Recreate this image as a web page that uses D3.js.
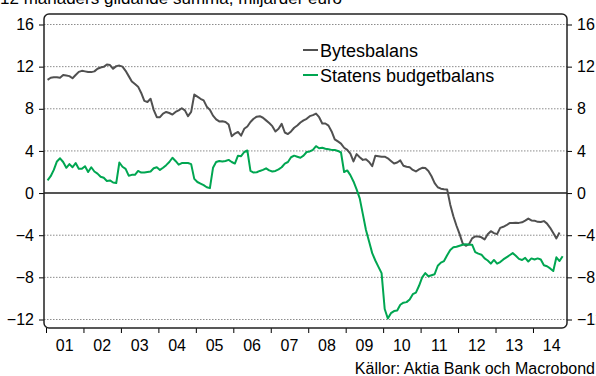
<!DOCTYPE html>
<html><head><meta charset="utf-8">
<script src="https://cdn.jsdelivr.net/npm/d3@7"></script>
<style>body{margin:0;background:#fff}svg{display:block}text{font-family:"Liberation Sans",Arial,sans-serif}</style>
</head><body>
<svg id="c" width="596" height="376"></svg>
<script>
const title = "12 månaders glidande summa, miljarder euro";
const source = "Källor: Aktia Bank och Macrobond";
const seriesNames = ["Bytesbalans", "Statens budgetbalans"];
const startYear = 2001;
const yearLabels = ["01","02","03","04","05","06","07","08","09","10","11","12","13","14"];
const yTicks = [-12, -8, -4, 0, 4, 8, 12, 16];
// monthly values from Jan 2001
const bytesbalans = [
 10.75,10.95,11.0,11.0,10.95,11.2,11.15,11.1,10.9,11.2,11.5,11.6,
 11.55,11.5,11.48,11.55,11.8,11.92,11.98,12.2,12.15,11.8,12.05,12.1,
 12.0,11.6,11.1,10.6,10.35,10.1,9.5,8.75,8.65,8.95,7.9,7.2,
 7.2,7.55,7.7,7.6,7.45,7.7,7.85,8.05,7.85,7.3,7.7,9.35,
 9.15,8.95,8.8,8.2,7.9,7.35,7.0,6.8,6.82,6.75,6.5,5.4,
 5.65,5.8,5.45,6.1,6.32,6.75,7.05,7.25,7.3,7.15,6.9,6.65,
 6.35,5.85,6.1,6.57,5.75,5.6,5.85,6.2,6.42,6.7,6.9,7.05,
 7.3,7.4,7.55,7.2,6.6,6.6,6.4,5.85,5.1,4.9,4.7,4.3,
 4.1,3.75,3.0,3.7,3.4,3.15,3.2,2.95,2.55,3.55,3.5,3.45,
 3.45,3.3,3.05,2.8,2.9,3.1,2.6,2.5,2.45,2.2,2.05,2.25,
 2.4,2.37,2.1,1.6,0.95,0.55,0.42,0.37,0.35,-1.1,-2.2,-3.1,
 -3.9,-4.8,-5.0,-4.85,-4.3,-4.12,-4.12,-4.2,-4.4,-3.9,-3.62,-3.8,
 -3.9,-3.3,-3.2,-3.05,-2.85,-2.85,-2.82,-2.83,-2.78,-2.62,-2.42,-2.6,
 -2.62,-2.73,-2.75,-2.66,-2.9,-3.3,-3.8,-4.3,-3.75
];
const budgetbalans = [
 1.2,1.6,2.2,3.0,3.3,2.95,2.4,2.75,2.45,2.85,2.3,2.3,
 2.55,2.0,2.45,2.05,1.85,1.55,1.45,1.15,1.2,1.0,0.95,2.9,
 2.5,2.3,1.65,1.73,1.73,2.1,1.95,1.95,2.0,2.05,2.35,2.45,
 2.2,2.4,2.65,2.95,3.35,3.05,2.7,2.85,2.85,2.85,2.75,1.35,
 1.05,0.9,0.75,0.55,0.47,2.4,2.95,3.05,3.0,3.05,3.15,2.95,
 2.8,3.55,3.5,3.9,4.04,2.1,1.95,1.98,2.1,2.2,2.35,2.15,
 2.05,2.1,2.25,2.45,2.8,2.95,3.4,3.55,3.45,3.35,3.55,3.9,
 3.95,4.1,4.45,4.25,4.3,4.2,4.15,4.1,4.1,4.0,3.85,2.0,
 2.15,1.7,1.1,0.35,-0.5,-2.0,-3.5,-4.6,-5.7,-6.4,-7.0,-7.6,
 -11.0,-11.9,-11.4,-11.2,-11.15,-10.6,-10.4,-10.35,-10.1,-9.6,-9.45,-8.8,
 -8.0,-7.6,-7.9,-7.8,-7.7,-6.9,-6.6,-6.45,-5.9,-5.4,-5.15,-5.1,
 -5.0,-4.9,-4.85,-4.9,-4.9,-5.6,-5.75,-5.85,-6.2,-6.4,-6.7,-6.35,
 -6.7,-6.55,-6.3,-6.1,-5.9,-5.7,-5.95,-6.25,-6.35,-6.15,-6.5,-6.2,
 -6.3,-6.2,-6.3,-6.85,-6.95,-7.15,-7.4,-6.1,-6.45,-6.0
];
const colors = ["#505050", "#00a651"];

const svg = d3.select("#c");
const L = 44, R = 567, T = 14, B = 328;
const x = d3.scaleLinear().domain([2001, 2015]).range([46, 46 + 14 * 37.46]);
const y = d3.scaleLinear().domain([-12, 16]).range([319.5, 24.5]);

// title (cut off at top, as in the original)
svg.append("text").attr("x", 0).attr("y", 4).attr("font-size", 17).attr("fill", "#000").text(title);

// gridlines
svg.append("g").selectAll("line").data(yTicks.filter(d => d !== 0)).join("line")
  .attr("x1", L).attr("x2", R).attr("y1", d => y(d)).attr("y2", d => y(d))
  .attr("stroke", "#8c8c8c").attr("stroke-width", 1).attr("stroke-dasharray", "1.5,1.5");

// zero line
svg.append("line").attr("x1", L).attr("x2", R).attr("y1", y(0)).attr("y2", y(0))
  .attr("stroke", "#555").attr("stroke-width", 2);

// axes
const yl = svg.append("g").attr("transform", `translate(${L},0)`)
  .call(d3.axisLeft(y).tickValues(yTicks).tickSize(5).tickPadding(5).tickFormat(d3.format("d")));
const yr = svg.append("g").attr("transform", `translate(${R},0)`)
  .call(d3.axisRight(y).tickValues(yTicks).tickSize(5).tickPadding(5).tickFormat(d3.format("d")));
const xb = svg.append("g").attr("transform", `translate(0,${B})`)
  .call(d3.axisBottom(x).tickValues(d3.range(startYear, startYear + yearLabels.length)).tickSize(5).tickFormat(""));
[yl, yr, xb].forEach(g => {
  g.select(".domain").remove();
  g.selectAll("line").attr("stroke", "#000");
  g.selectAll("text").attr("font-size", 16).attr("fill", "#000").attr("font-family", "Liberation Sans, Arial, sans-serif");
});
svg.append("g").selectAll("text").data(yearLabels).join("text")
  .attr("x", (d, i) => x(startYear + i + 0.5)).attr("y", 351)
  .attr("text-anchor", "middle").attr("font-size", 16).attr("fill", "#000").text(d => d);

// lines
const line = d3.line().x((d, i) => x(startYear + (i + 0.5) / 12)).y(d => y(d));
[bytesbalans, budgetbalans].forEach((s, k) => {
  svg.append("path").attr("d", line(s)).attr("fill", "none")
    .attr("stroke", colors[k]).attr("stroke-width", 2).attr("stroke-linejoin", "round");
});

// frame
svg.append("rect").attr("x", L).attr("y", T).attr("width", R - L).attr("height", B - T)
  .attr("rx", 5).attr("fill", "none").attr("stroke", "#222").attr("stroke-width", 1.5);

// legend
seriesNames.forEach((n, k) => {
  const cy = 50 + k * 25;
  svg.append("line").attr("x1", 303).attr("x2", 318).attr("y1", cy).attr("y2", cy)
    .attr("stroke", colors[k]).attr("stroke-width", 2);
  svg.append("text").attr("x", 320).attr("y", cy + 6.5).attr("font-size", 18).attr("fill", "#000").text(n);
});

// source
svg.append("text").attr("x", 595).attr("y", 374).attr("text-anchor", "end")
  .attr("font-size", 16).attr("fill", "#000").text(source);
</script>
</body></html>
